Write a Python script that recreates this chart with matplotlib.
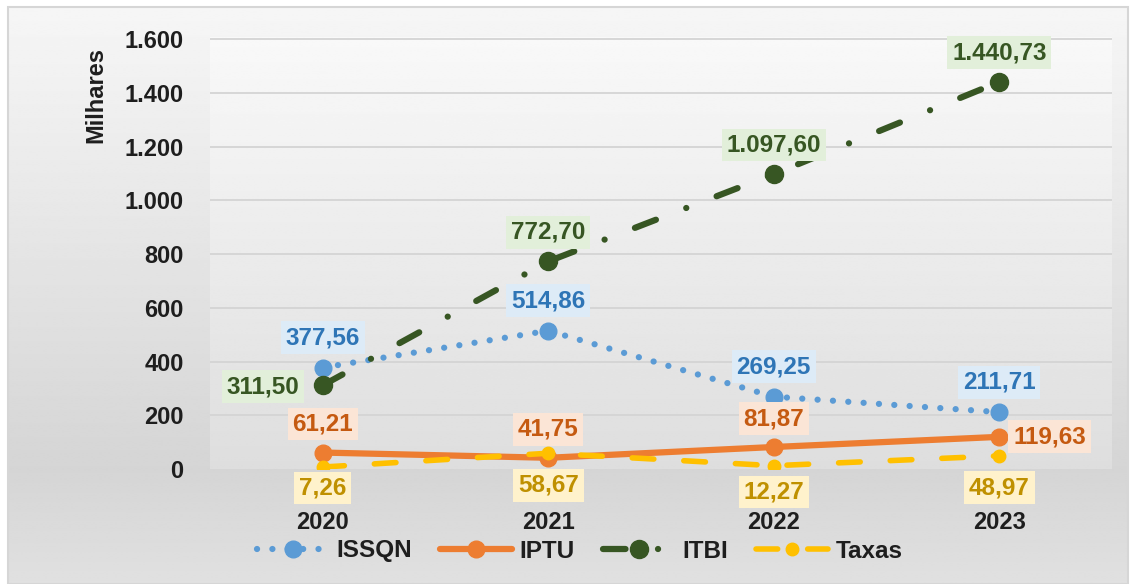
import numpy as np
import matplotlib.pyplot as plt
from matplotlib.patches import Rectangle

# data (values in thousands)
years = ['2020', '2021', '2022', '2023']
issqn = [377.56, 514.86, 269.25, 211.71]
iptu = [61.21, 41.75, 81.87, 119.63]
itbi = [311.50, 772.70, 1097.60, 1440.73]
taxas = [7.26, 58.67, 12.27, 48.97]
yticks = [0, 200, 400, 600, 800, 1000, 1200, 1400, 1600]

# vertical offsets (pt) of the Taxas labels, as placed in the original
taxas_dy = [-15, -23, -19, -23]


def br(v, dec=2):
    """Brazilian number format: 1.440,73"""
    s = f"{v:,.{dec}f}"
    return s.replace(',', 'X').replace('.', ',').replace('X', '.')


plt.rcParams['font.family'] = ['Liberation Sans', 'DejaVu Sans']
plt.rcParams['font.weight'] = 'bold'
FS = 17.5
TFS = 17

W, H = 1135, 584
fig = plt.figure(figsize=(W / 100, H / 100), dpi=100)
fig.patch.set_facecolor('white')

# outer chart background with gradient + thin border
bg = fig.add_axes([0, 0, 1, 1], zorder=-5)
bg.set_xlim(0, W)
bg.set_ylim(H, 0)
bg.axis('off')
yy = np.linspace(7, H, 300)
shade = np.interp(yy, [7, 470, H], [0.965, 0.835, 0.88])
grad = np.repeat(shade[:, None], 2, axis=1)
bg.imshow(grad, cmap='gray', vmin=0, vmax=1, extent=(8, 1128, H, 7),
          aspect='auto', interpolation='bilinear')
bg.add_patch(Rectangle((8, 7), 1120, 577, fill=False, ec='#D6D6D6', lw=1.5))

# plot area
ax = fig.add_axes([210 / W, 1 - 469 / H, 902 / W, 432 / H])
x = np.arange(len(years))
ax.set_xlim(-0.5, len(years) - 0.5)
ax.set_ylim(0, 1608)

pa = np.linspace(0.975, 0.87, 200)[:, None]
ax.imshow(np.repeat(pa, 2, axis=1), cmap='gray', vmin=0, vmax=1,
          extent=(0, 1, 0, 1), transform=ax.transAxes, aspect='auto',
          interpolation='bilinear', zorder=0)
ax.patch.set_alpha(0)
for sp in ax.spines.values():
    sp.set_visible(False)

for t in yticks[1:]:
    ax.axhline(t, color='#D4D4D4', lw=1.3, zorder=1)

ax.set_yticks(yticks)
ax.set_yticklabels([br(t, 0) for t in yticks])
ax.set_xticks(x)
ax.set_xticklabels(years)
ax.tick_params(axis='y', length=0, pad=19, labelsize=TFS, labelcolor='#1E1E1E')
ax.tick_params(axis='x', length=0, pad=30, labelsize=TFS, labelcolor='#1E1E1E')
ax.set_ylabel('Milhares', fontsize=TFS, fontweight='bold', color='#1E1E1E')
ax.yaxis.set_label_coords(-0.114, 0.865)

blue, orange, green, gold = '#5B9BD5', '#ED7D31', '#375623', '#FFC000'

l1, = ax.plot(x, issqn, color=blue, lw=4.5, marker='o', ms=12,
              dashes=(0.01, 2.45), dash_capstyle='round', label='ISSQN', zorder=3)
l2, = ax.plot(x, iptu, color=orange, lw=4.5, marker='o', ms=12,
              solid_capstyle='round', label='IPTU', zorder=4)
l3, = ax.plot(x, itbi, color=green, lw=4.5, marker='o', ms=13,
              dashes=(3.6, 5.2, 0.01, 5.2), dash_capstyle='round', label='ITBI', zorder=3.5)
l4, = ax.plot(x, taxas, color=gold, lw=4, marker='o', ms=9,
              dashes=(3.9, 5.4), dash_capstyle='round', label='Taxas', zorder=5)


def label(xi, yi, txt, dx, dy, tc, fc, ha='center'):
    ax.annotate(txt, (xi, yi), xytext=(dx, dy), textcoords='offset points',
                ha=ha, va='center', fontsize=FS, fontweight='bold', color=tc,
                bbox=dict(boxstyle='square,pad=0.2', fc=fc, ec='none'), zorder=6)


for i in range(len(years)):
    label(i, issqn[i], br(issqn[i]), 0, 21.5, '#2E75B6', '#DDEBF7')
    if i == 3:
        label(i, iptu[i], br(iptu[i]), 10, 0, '#C55A11', '#FBE5D6', ha='left')
    else:
        label(i, iptu[i], br(iptu[i]), 0, 20.5, '#C55A11', '#FBE5D6')
    if i == 0:
        label(i, itbi[i], br(itbi[i]), -17, -1, green, '#E2EFDA', ha='right')
    else:
        label(i, itbi[i], br(itbi[i]), 0, 21, green, '#E2EFDA')
    label(i, taxas[i], br(taxas[i]), 0, taxas_dy[i], '#BF9000', '#FFF2CC')

leg = fig.legend(handles=[l1, l2, l3, l4], loc='center', bbox_to_anchor=(580 / W, 1 - 551 / H),
                 ncol=4, frameon=False, fontsize=FS, handlelength=2.95,
                 columnspacing=1.15, handletextpad=0.33, markerscale=1.0)
for t in leg.get_texts():
    t.set_color('#1E1E1E')

fig.savefig('out.png', dpi=100)
